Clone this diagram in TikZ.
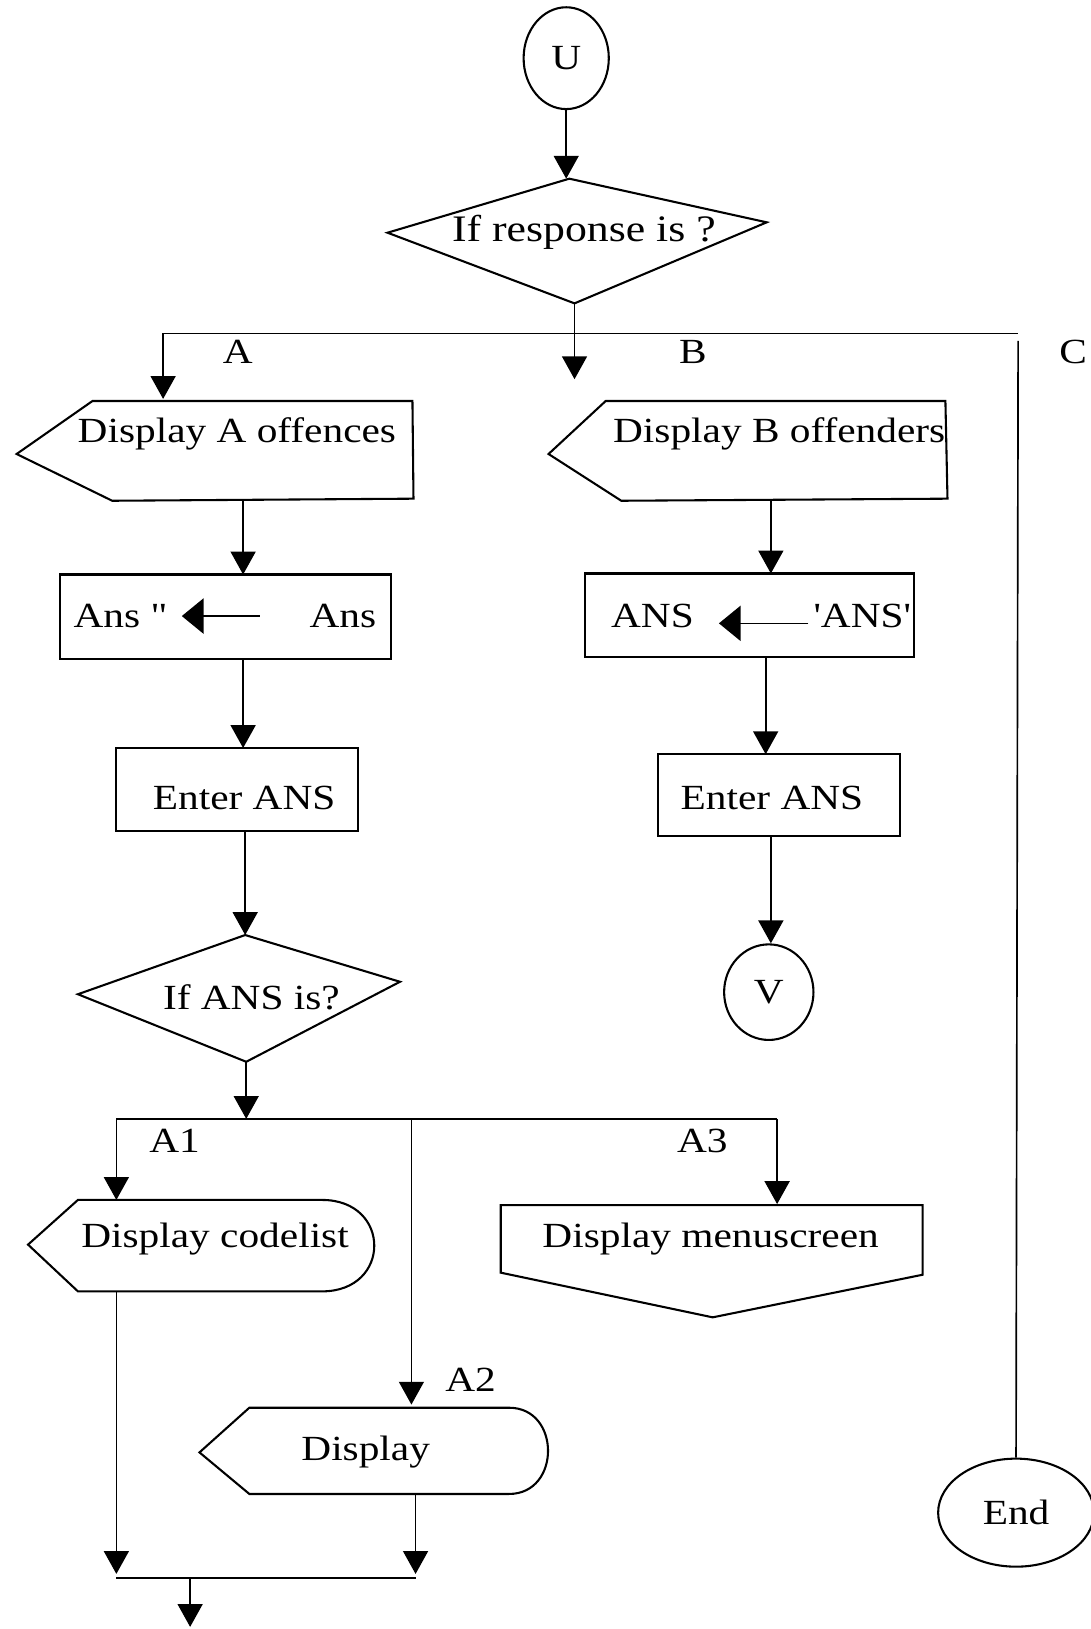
\documentclass[tikz,border=0pt]{standalone}
\usepackage{fontspec}
\setmainfont{Liberation Serif}[FakeStretch=1.17, Ligatures=TeXOff]
\usetikzlibrary{arrows.meta,shapes.geometric}
\begin{document}
\begin{tikzpicture}[x=0.5pt,y=-0.5pt,
  ln/.style={line width=0.8pt},
  arr/.style={line width=0.8pt,-{Triangle[width=12pt,length=11pt]}},
  bigarr/.style={line width=0.8pt,-{Triangle[width=17pt,length=10.5pt]}},
  shp/.style={line width=1pt},
  txt/.style={font=\fontsize{17}{20}\selectfont, inner sep=0pt},
  lbl/.style={font=\fontsize{17}{20}\selectfont, inner sep=0pt},
  term/.style={draw, ellipse, line width=1pt, inner sep=0pt, font=\fontsize{17}{20}\selectfont}]
\useasboundingbox (0,0) rectangle (1050,1568);
\clip (0,0) rectangle (1050,1568);

% ---- top connector U and first decision
\node[term, minimum width=41pt, minimum height=49pt] (U) at (545,56) {U};
\coordinate (d1t) at (548,172);
\coordinate (d1r) at (738,214);
\coordinate (d1b) at (553,292);
\coordinate (d1l) at (373,224);
\draw[shp] (d1t) -- (d1r) -- (d1b) -- (d1l) -- cycle;
\node[txt, font=\fontsize{18}{21}\selectfont] (q1) at (562,224) {If response is ?};
\draw[arr] (U.south) -- (U.south |- d1t);

% ---- branch A / B / C
\coordinate (bA) at (157,321);
\coordinate (bC) at (980,321);
\coordinate (inA) at (157,384);
\coordinate (inB) at (553,365);
\draw[ln] (bA) -- (bC);
\draw[arr] (bA) -- (inA);
\draw[arr] (d1b) -- (inB);
\node[lbl] (lA) at (229,339) {A};
\node[lbl] (lB) at (667,339) {B};
\node[lbl] (lC) at (1033,339) {C};

% ---- C column: End
\node[term, minimum width=75pt, minimum height=52pt] (End) at (978,1456) {End};
\coordinate (cTop) at (980,328);
\draw[ln] (cTop) -- (End.north);

% ---- A column
\draw[shp] (89,386) -- (397,386) -- (398,480) -- (108,482) -- (16,437) -- cycle;
\node[txt] (tA) at (228,418) {Display A offences};
\coordinate (Abot) at (234,481);
\coordinate (AnsTop) at (234,553);
\draw[arr] (Abot) -- (AnsTop);

\draw[shp] (58,553) rectangle (376,634);
\node[txt] (ans1) at (116,593) {Ans "};
\node[txt] (ans2) at (330,593) {Ans};
\coordinate (aS) at (250,593);
\coordinate (aE) at (175,593);
\draw[bigarr] (aS) -- (aE);
\coordinate (AnsBot) at (234,634);
\coordinate (EnTop) at (234,720);
\draw[arr] (AnsBot) -- (EnTop);

\draw[shp] (112,720) rectangle (345,800);
\node[txt] (en1) at (235,768) {Enter ANS};
\coordinate (EnBot) at (236,800);
\coordinate (d2t) at (236,900);
\draw[arr] (EnBot) -- (d2t);

\coordinate (d2r) at (385,945);
\coordinate (d2b) at (237,1022);
\coordinate (d2l) at (75,957);
\draw[shp] (d2t) -- (d2r) -- (d2b) -- (d2l) -- cycle;
\node[txt] (q2) at (242,960) {If ANS is?};
\coordinate (h2) at (237,1077);
\draw[arr] (d2b) -- (h2);

\coordinate (h2L) at (112,1077);
\coordinate (h2M) at (396,1077);
\coordinate (h2R) at (748,1077);
\draw[ln] (h2L) -- (h2R);
\coordinate (in1) at (112,1155);
\coordinate (in2) at (396,1352);
\coordinate (in3) at (748,1159);
\draw[arr] (h2L) -- (in1);
\draw[arr] (h2M) -- (in2);
\draw[arr] (h2R) -- (in3);
\node[lbl] (lA1) at (168,1098) {A1};
\node[lbl] (lA2) at (453,1328) {A2};
\node[lbl] (lA3) at (676,1098) {A3};

% Display codelist
\draw[shp] (27,1198) -- (75,1155) -- (310,1155) .. controls (377,1155) and (377,1243) .. (310,1243) -- (75,1243) -- cycle;
\node[txt] (cl) at (207,1193) {Display codelist};

% Display menuscreen
\draw[shp] (482,1160) -- (888,1160) -- (888,1227) -- (686,1268) -- (482,1225) -- cycle;
\node[txt] (ms) at (684,1193) {Display menuscreen};

% Display (A2)
\draw[shp] (192,1398) -- (240,1355) -- (490,1355) .. controls (540,1355) and (540,1438) .. (490,1438) -- (240,1438) -- cycle;
\node[txt] (dp) at (352,1398) {Display};

% merge at bottom
\coordinate (clBot) at (112,1243);
\coordinate (dpBot) at (400,1438);
\coordinate (m1) at (112,1515);
\coordinate (m2) at (400,1515);
\coordinate (mL) at (112,1519);
\coordinate (mR) at (400,1519);
\coordinate (mO) at (183,1519);
\coordinate (out) at (183,1566);
\draw[arr] (clBot) -- (m1);
\draw[arr] (dpBot) -- (m2);
\draw[shp] (mL) -- (mR);
\draw[arr] (mO) -- (out);

% ---- B column
\draw[shp] (583,386) -- (910,386) -- (912,480) -- (598,482) -- (528,437) -- cycle;
\node[txt] (tB) at (750,418) {Display B offenders};
\coordinate (Bbot) at (742,481);
\coordinate (ANSTop) at (742,552);
\draw[arr] (Bbot) -- (ANSTop);

\draw[shp] (563,552) rectangle (880,632);
\node[txt] (ans3) at (628,593) {ANS};
\node[txt] (ans4) at (830,593) {'ANS'};
\coordinate (bS) at (778,600);
\coordinate (bE) at (692,600);
\draw[bigarr] (bS) -- (bE);
\coordinate (ANSBot) at (737,632);
\coordinate (En2Top) at (737,726);
\draw[arr] (ANSBot) -- (En2Top);

\draw[shp] (633,726) rectangle (866,805);
\node[txt] (en2) at (743,768) {Enter ANS};
\node[term, minimum width=43pt, minimum height=46pt] (V) at (740,955) {V};
\coordinate (En2Bot) at (742,805);
\draw[arr] (En2Bot) -- (En2Bot |- V.north);
\end{tikzpicture}
\end{document}
